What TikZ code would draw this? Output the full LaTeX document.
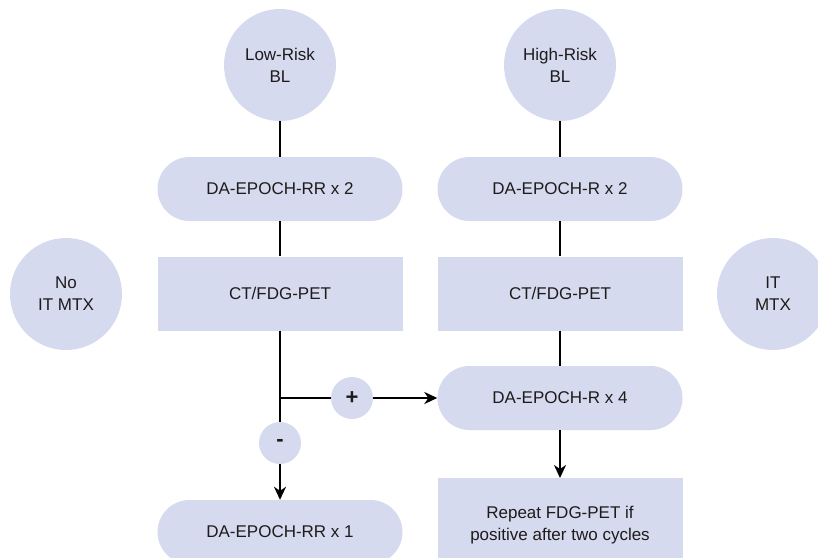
\documentclass[tikz,border=0pt]{standalone}
\usepackage{fontspec}
\setmainfont{Liberation Sans}
\usetikzlibrary{arrows.meta}
\definecolor{lav}{RGB}{214,218,238}
\definecolor{ink}{RGB}{30,27,28}
\begin{document}
\begin{tikzpicture}[x=1pt,y=-1pt,
  every node/.style={font=\fontsize{17}{22}\selectfont, text=ink, align=center, inner sep=0pt},
  bubble/.style={circle, fill=lav, minimum size=112pt},
  sign/.style={circle, fill=lav, minimum size=42pt, font=\fontsize{22}{22}\selectfont\bfseries},
  pill/.style={rectangle, fill=lav, minimum width=245pt, minimum height=64pt, rounded corners=32pt},
  boxnode/.style={rectangle, fill=lav, minimum width=245pt, minimum height=74pt},
  link/.style={draw=black, line width=2pt},
  arr/.style={link, -{Stealth[length=13pt,width=12pt,inset=4pt]}}]
\useasboundingbox (0,0) rectangle (818,557);
\clip (0,0) rectangle (818,557);
\node[bubble] (lr) at (280,65) {Low-Risk\\BL};
\node[bubble] (hr) at (560,65) {High-Risk\\BL};
\node[pill] (p1) at (280,189) {DA-EPOCH-RR x 2};
\node[pill] (p2) at (560,189) {DA-EPOCH-R x 2};
\node[boxnode] (ct1) at (280,293.5) {CT/FDG-PET};
\node[boxnode] (ct2) at (560,293.5) {CT/FDG-PET};
\node[bubble] (noit) at (66,294) {No\\IT MTX};
\node[bubble] (it) at (773,294) {IT\\MTX};
\node[pill] (p3) at (560,398) {DA-EPOCH-R x 4};
\node[sign] (plus) at (352,398) {+};
\node[sign] (minus) at (280,443) {-};
\node[pill] (p4) at (280,532) {DA-EPOCH-RR x 1};
\node[rectangle, fill=lav, minimum width=245pt, minimum height=92pt, anchor=north] (rep) at (560,478) {};
\node (reptext) at (560,525) {Repeat FDG-PET if\\positive after two cycles};
\coordinate (j) at (280,398);
\draw[link] (lr) -- (p1);
\draw[link] (p1) -- (ct1);
\draw[link] (hr) -- (p2);
\draw[link] (p2) -- (ct2);
\draw[link] (ct1.south) -- (minus.north);
\draw[link] (j) -- (plus.west);
\draw[arr] (plus.east) -- (p3.west);
\draw[arr] (minus.south) -- (p4.north);
\draw[link] (ct2.south) -- (p3.north);
\draw[arr] (p3.south) -- (rep.north);
\end{tikzpicture}
\end{document}
